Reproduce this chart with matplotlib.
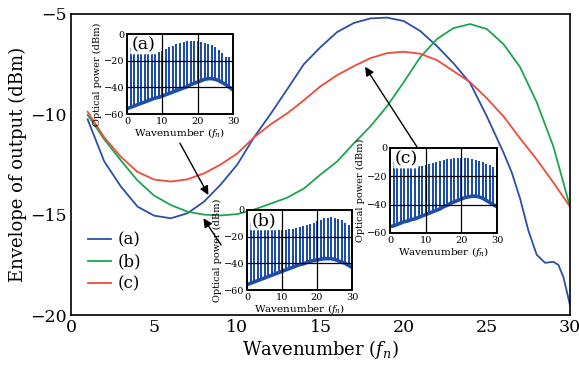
import numpy as np
import matplotlib
matplotlib.use("Agg")
import matplotlib.pyplot as plt

plt.rcParams['font.family'] = ['DejaVu Serif']
plt.rcParams['mathtext.fontset'] = 'dejavuserif'

# ---------------- main envelope data ----------------
x_a = [1, 2, 3, 4, 5, 6, 7, 8, 9, 10, 11, 12, 13, 14, 15, 16, 17, 18, 19, 20,
       21, 22, 23, 24, 25, 26, 26.5, 27, 27.5, 28, 28.5, 29, 29.3, 29.6, 30]
env_a = [-10.25, -12.35, -13.6, -14.6, -15.05, -15.18, -14.93, -14.35, -13.5, -12.5,
         -11.15, -9.98, -8.75, -7.5, -6.65, -5.9, -5.45, -5.22, -5.18, -5.35,
         -5.85, -6.6, -7.46, -8.45, -10.1, -11.9, -12.9, -14.2, -15.8, -17.0,
         -17.4, -17.35, -17.5, -18.1, -19.5]

x_b = list(range(1, 31))
env_b = [-10.03, -11.25, -12.3, -13.3, -14.05, -14.52, -14.85, -15.0, -15.04, -14.97,
         -14.75, -14.45, -14.15, -13.7, -13.0, -12.35, -11.45, -10.6, -9.6, -8.4,
         -7.15, -6.25, -5.7, -5.5, -5.75, -6.5, -7.65, -9.4, -11.6, -14.6]

x_c = list(range(1, 31))
env_c = [-9.87, -11.15, -12.12, -12.87, -13.25, -13.35, -13.24, -12.94, -12.5, -11.95,
         -11.15, -10.5, -9.95, -9.3, -8.6, -8.05, -7.6, -7.2, -6.95, -6.88,
         -6.98, -7.3, -7.85, -8.4, -9.2, -10.1, -11.2, -12.25, -13.4, -14.6]

series_labels = ['(a)', '(b)', '(c)']
main_colors = ['#2a4fa8', '#1aa552', '#f04a3a']

x_ticks = [0, 5, 10, 15, 20, 25, 30]
y_ticks = [-20, -15, -10, -5]

# ---------------- inset spectra data ----------------
n_lines = list(range(0, 31))
first_line_a = -20
first_line_b = -40
first_line_c = -41
floor_a = [-56, -55, -54, -53, -52, -51, -50, -49, -48, -47.5, -46.5, -45.5, -44.5, -43.5,
           -42.5, -41.5, -40.5, -39.5, -38, -37, -36, -35, -34, -33.5, -33.5, -34, -35,
           -36.5, -38, -40, -42]
floor_b = [-56, -55, -54, -53, -52, -51, -50, -49, -48, -47, -46, -45, -44, -43, -42, -41,
           -40.5, -39.5, -38.5, -38, -37.5, -37, -36.5, -36.5, -36.5, -37, -38, -39, -40,
           -41.5, -43]
floor_c = [-55.5, -55, -54, -53, -52, -51.5, -50.5, -50, -49, -48, -47, -46, -45, -44, -43,
           -41.5, -40.5, -39, -38, -37, -36, -35, -34.5, -34, -34, -34.5, -35.5, -37, -38.5,
           -40, -41.5]
inset_xticks = [0, 10, 20, 30]
inset_yticks = [0, -20, -40, -60]

W, H = 579, 373
fig = plt.figure(figsize=(W / 100, H / 100), dpi=100)
ax = fig.add_axes([71 / W, 1 - 315 / H, (570 - 71) / W, (315 - 14) / H])

ax.plot(x_a, env_a, color=main_colors[0], lw=1.3, label=series_labels[0])
ax.plot(x_b, env_b, color=main_colors[1], lw=1.3, label=series_labels[1])
ax.plot(x_c, env_c, color=main_colors[2], lw=1.3, label=series_labels[2])

ax.set_xlim(0, 30)
ax.set_ylim(-20, -5)
ax.set_xticks(x_ticks)
ax.set_yticks(y_ticks)
ax.tick_params(direction='in', length=0, labelsize=12.5, pad=3)
for sp in ax.spines.values():
    sp.set_linewidth(1.2)
ax.set_xlabel('Wavenumber ($f_n$)', fontsize=13, labelpad=1)
ax.set_ylabel('Envelope of output (dBm)', fontsize=13, labelpad=2)

ax.legend(loc='upper left', bbox_to_anchor=(0.02, 0.30), frameon=False,
          fontsize=12, handlelength=1.4, handletextpad=0.4, labelspacing=0.3,
          borderaxespad=0)

# arrows
arw = dict(arrowstyle='-|>', color='black', lw=1.0, mutation_scale=13, shrinkA=0, shrinkB=0)
ax.annotate('', xy=(8.26, -14.02), xytext=(6.55, -11.44), arrowprops=arw)
ax.annotate('', xy=(7.96, -15.18), xytext=(9.02, -16.51), arrowprops=arw)
ax.annotate('', xy=(17.68, -7.63), xytext=(20.79, -11.61), arrowprops=arw)

inset_color = '#1f4ea6'


def draw_inset(rect, env_x, env_y, first, floor, tag):
    ia = fig.add_axes(rect)
    ia.set_facecolor('white')
    peaks = [first] + [env_y[list(env_x).index(k)] for k in range(1, 31)]
    ia.vlines(n_lines, floor, peaks, color=inset_color, lw=1.45, zorder=2)
    ia.plot(n_lines, floor, color=inset_color, lw=2.6, zorder=2)
    ia.set_xlim(0, 30)
    ia.set_ylim(-60, 0)
    ia.set_xticks(inset_xticks)
    ia.set_yticks(inset_yticks)
    for v in [10, 20]:
        ia.axvline(v, color='black', lw=0.9, zorder=3)
    for v in [-20, -40]:
        ia.axhline(v, color='black', lw=0.9, zorder=3)
    ia.tick_params(direction='in', length=0, labelsize=7, pad=2)
    for sp in ia.spines.values():
        sp.set_linewidth(1.4)
        sp.set_zorder(4)
    ia.set_xlabel('Wavenumber ($f_n$)', fontsize=7.5, labelpad=0)
    ia.set_ylabel('Optical power (dBm)', fontsize=7, labelpad=1)
    ia.text(0.04, 0.97, tag, transform=ia.transAxes, fontsize=12.5, va='top', ha='left',
            zorder=5, bbox=dict(boxstyle='round,pad=0.05', fc='white', ec='none'))
    return ia


draw_inset([127 / W, 1 - 114 / H, 106 / W, 80 / H], x_a, env_a, first_line_a, floor_a, '(a)')
draw_inset([247 / W, 1 - 290 / H, 105 / W, 80 / H], x_b, env_b, first_line_b, floor_b, '(b)')
draw_inset([390 / W, 1 - 233 / H, 107 / W, 85 / H], x_c, env_c, first_line_c, floor_c, '(c)')

fig.savefig('out.png', dpi=100)
